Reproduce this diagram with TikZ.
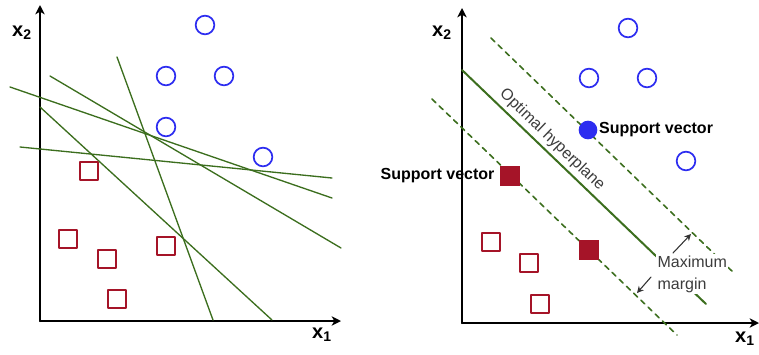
\documentclass[tikz,border=0pt]{standalone}
\usepackage{fontspec}
\setmainfont{Liberation Sans}
\usetikzlibrary{arrows.meta}
\definecolor{svmblue}{RGB}{45,45,240}
\definecolor{svmred}{RGB}{165,20,40}
\definecolor{svmgreen}{RGB}{60,110,30}
\definecolor{svmgray}{RGB}{60,60,60}

\begin{document}
\begin{tikzpicture}[x=0.75pt, y=-0.75pt, line cap=round, line join=round,
  axis/.style={line width=1.5pt, -{Stealth[length=7pt,width=7pt,inset=2pt]}},
  posclass/.style={circle, draw=svmblue, line width=1.3pt, minimum size=14pt, inner sep=0pt},
  negclass/.style={rectangle, draw=svmred, line width=1.3pt, minimum size=13.5pt, inner sep=0pt},
  posvec/.style={circle, fill=svmblue, minimum size=14pt, inner sep=0pt},
  negvec/.style={rectangle, fill=svmred, minimum size=15pt, inner sep=0pt},
  cand/.style={svmgreen, line width=1pt},
  margin/.style={svmgreen, line width=1.2pt, dash pattern=on 4pt off 3.5pt},
  axlabel/.style={font=\bfseries\fontsize{15}{17}\selectfont},
  svlabel/.style={font=\bfseries\fontsize{12}{14}\selectfont},
  note/.style={text=svmgray, font=\fontsize{12}{16.5}\selectfont}]
\useasboundingbox (0,0) rectangle (759,354);

% left panel: many possible separating lines
\draw[axis] (40,321) -- (40,5);
\draw[axis] (40,321) -- (341,321);
\node[axlabel] (lx2) at (22,33) {x\textsubscript{2}};
\node[axlabel] (lx1) at (322,335) {x\textsubscript{1}};

\draw[cand] (10,87) -- (332,198);
\draw[cand] (50,76) -- (341,248);
\draw[cand] (20,147) -- (332,178);
\draw[cand] (40,107) -- (272,320);
\draw[cand] (117,57) -- (213,320);

\node[posclass] (la) at (205,25) {};
\node[posclass] (lb) at (166,76) {};
\node[posclass] (lc) at (224,76) {};
\node[posclass] (ld) at (166,127) {};
\node[posclass] (le) at (263,157) {};
\node[negclass] (lp) at (89,171) {};
\node[negclass] (lq) at (68,239) {};
\node[negclass] (lr) at (107,259) {};
\node[negclass] (ls) at (166,246) {};
\node[negclass] (lt) at (117,299) {};

% right panel: optimal hyperplane and margin
\draw[axis] (462,323) -- (462,8);
\draw[axis] (462,323) -- (759,323);
\node[axlabel] (rx2) at (442,33) {x\textsubscript{2}};
\node[axlabel] (rx1) at (745,339) {x\textsubscript{1}};

\draw[margin] (491,38) -- (735,274);
\draw[margin] (432,99) -- (677,335);
\draw[svmgreen, line width=1.5pt] (462,70) -- (706,304);
\node[note, rotate=-43.8, inner sep=0pt] (hyp) at (552,140) {Optimal hyperplane};

\node[posclass] (ra) at (628,28) {};
\node[posclass] (rb) at (589,78) {};
\node[posclass] (rc) at (647,78) {};
\node[posclass] (rd) at (686,161) {};
\node[posvec] (rsv) at (588,130) {};
\node[negclass] (rp) at (491,242) {};
\node[negclass] (rq) at (529,263) {};
\node[negclass] (rr) at (540,304) {};
\node[negvec] (nsv) at (510,176) {};
\node[negvec] (ns) at (589,250) {};

\node[svlabel, anchor=west, inner sep=1pt] (svtop) at (rsv.east) {Support vector};
\node[svlabel, anchor=east, inner sep=1pt] (svleft) at (496,176) {Support vector};

\node[note, anchor=west, align=left, fill=white, inner sep=1pt] (mm) at (656,274) {Maximum\\margin};
\coordinate (mtop) at (691,234);
\coordinate (mbot) at (637,293);
\draw[black!80, line width=0.8pt, -{Stealth[length=5pt,width=5pt]}] (673,253) -- (mtop);
\draw[black!80, line width=0.8pt, -{Stealth[length=5pt,width=5pt]}] (651,277) -- (mbot);
\end{tikzpicture}
\end{document}
